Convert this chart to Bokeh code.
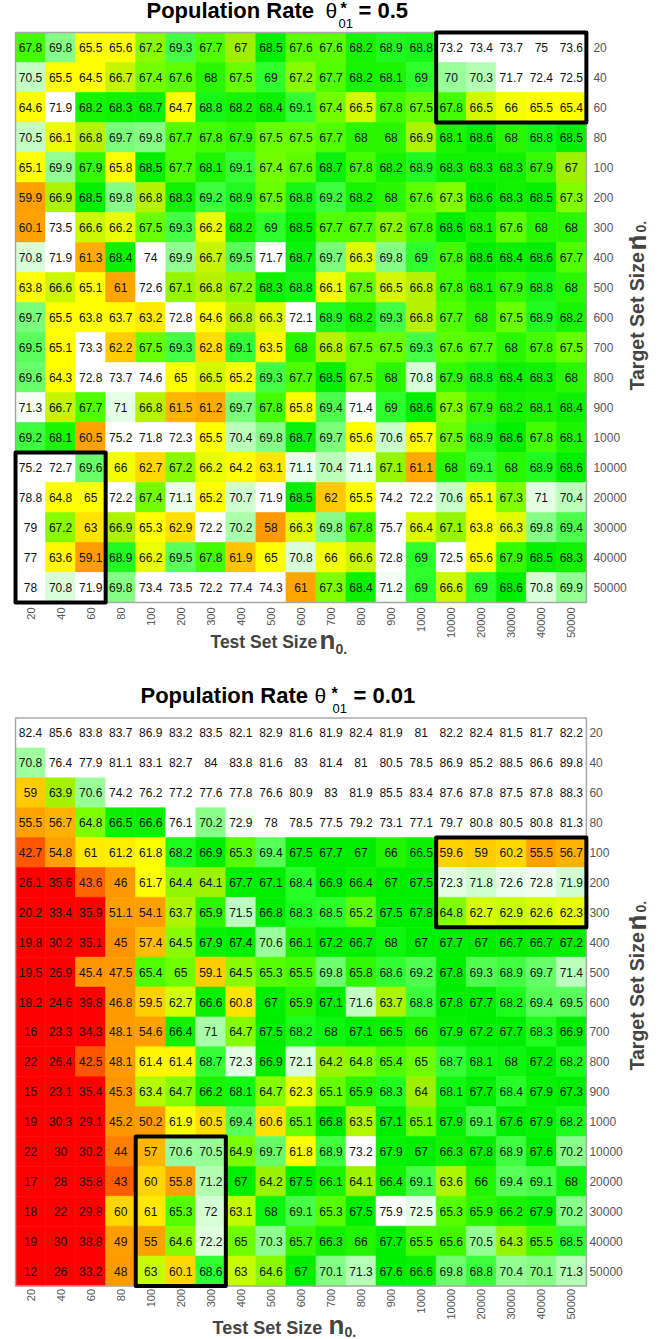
import math
from bokeh.plotting import figure
from bokeh.models import ColumnDataSource, LinearColorMapper, Label, FactorRange
from bokeh.layouts import column
from bokeh.embed import file_html
from bokeh.resources import INLINE
from bokeh.core.properties import value

# ---------------- data ----------------
test_sizes = ["20", "40", "60", "80", "100", "200", "300", "400", "500", "600",
              "700", "800", "900", "1000", "10000", "20000", "30000", "40000", "50000"]
target_sizes = ["20", "40", "60", "80", "100", "200", "300", "400", "500", "600",
                "700", "800", "900", "1000", "10000", "20000", "30000", "40000", "50000"]

# rows = target set size (top to bottom), columns = test set size
rate_05 = [
    [67.8, 69.8, 65.5, 65.6, 67.2, 69.3, 67.7, 67, 68.5, 67.6, 67.6, 68.2, 68.9, 68.8, 73.2, 73.4, 73.7, 75, 73.6],
    [70.5, 65.5, 64.5, 66.7, 67.4, 67.6, 68, 67.5, 69, 67.2, 67.7, 68.2, 68.1, 69, 70, 70.3, 71.7, 72.4, 72.5],
    [64.6, 71.9, 68.2, 68.3, 68.7, 64.7, 68.8, 68.2, 68.4, 69.1, 67.4, 66.5, 67.8, 67.5, 67.8, 66.5, 66, 65.5, 65.4],
    [70.5, 66.1, 66.8, 69.7, 69.8, 67.7, 67.8, 67.9, 67.5, 67.5, 67.7, 68, 68, 66.9, 68.1, 68.6, 68, 68.8, 68.5],
    [65.1, 69.9, 67.9, 65.8, 68.5, 67.7, 68.1, 69.1, 67.4, 67.6, 68.7, 67.8, 68.2, 68.9, 68.3, 68.3, 68.3, 67.9, 67],
    [59.9, 66.9, 68.5, 69.8, 66.8, 68.3, 69.2, 68.9, 67.5, 68.8, 69.2, 68.2, 68, 67.6, 67.3, 68.6, 68.3, 68.5, 67.3],
    [60.1, 73.5, 66.6, 66.2, 67.5, 69.3, 66.2, 68.2, 69, 68.5, 67.7, 67.7, 67.2, 67.8, 68.6, 68.1, 67.6, 68, 68],
    [70.8, 71.9, 61.3, 68.4, 74, 69.9, 66.7, 69.5, 71.7, 68.7, 69.7, 66.3, 69.8, 69, 67.8, 68.6, 68.4, 68.6, 67.7],
    [63.8, 66.6, 65.1, 61, 72.6, 67.1, 66.8, 67.2, 68.3, 68.8, 66.1, 67.5, 66.5, 66.8, 67.8, 68.1, 67.9, 68.8, 68],
    [69.7, 65.5, 63.8, 63.7, 63.2, 72.8, 64.6, 66.8, 66.3, 72.1, 68.9, 68.2, 69.3, 66.8, 67.7, 68, 67.5, 68.9, 68.2],
    [69.5, 65.1, 73.3, 62.2, 67.5, 69.3, 62.8, 69.1, 63.5, 68, 66.8, 67.5, 67.5, 69.3, 67.6, 67.7, 68, 67.8, 67.5],
    [69.6, 64.3, 72.8, 73.7, 74.6, 65, 66.5, 65.2, 69.3, 67.7, 68.5, 67.5, 68, 70.8, 67.9, 68.8, 68.4, 68.3, 68],
    [71.3, 66.7, 67.7, 71, 66.8, 61.5, 61.2, 69.7, 67.8, 65.8, 69.4, 71.4, 69, 68.6, 67.3, 67.9, 68.2, 68.1, 68.4],
    [69.2, 68.1, 60.5, 75.2, 71.8, 72.3, 65.5, 70.4, 69.8, 68.7, 69.7, 65.6, 70.6, 65.7, 67.5, 68.9, 68.6, 67.8, 68.1],
    [75.2, 72.7, 69.6, 66, 62.7, 67.2, 66.2, 64.2, 63.1, 71.1, 70.4, 71.1, 67.1, 61.1, 68, 69.1, 68, 68.9, 68.6],
    [78.8, 64.8, 65, 72.2, 67.4, 71.1, 65.2, 70.7, 71.9, 68.5, 62, 65.5, 74.2, 72.2, 70.6, 65.1, 67.3, 71, 70.4],
    [79, 67.2, 63, 66.9, 65.3, 62.9, 72.2, 70.2, 58, 66.3, 69.8, 67.8, 75.7, 66.4, 67.1, 63.8, 66.3, 69.8, 69.4],
    [77, 63.6, 59.1, 68.9, 66.2, 69.5, 67.8, 61.9, 65, 70.8, 66, 66.6, 72.8, 69, 72.5, 65.6, 67.9, 68.5, 68.3],
    [78, 70.8, 71.9, 69.8, 73.4, 73.5, 72.2, 77.4, 74.3, 61, 67.3, 68.4, 71.2, 69, 66.6, 69, 68.6, 70.8, 69.9],
]

rate_001 = [
    [82.4, 85.6, 83.8, 83.7, 86.9, 83.2, 83.5, 82.1, 82.9, 81.6, 81.9, 82.4, 81.9, 81, 82.2, 82.4, 81.5, 81.7, 82.2],
    [70.8, 76.4, 77.9, 81.1, 83.1, 82.7, 84, 83.8, 81.6, 83, 81.4, 81, 80.5, 78.5, 86.9, 85.2, 88.5, 86.6, 89.8],
    [59, 63.9, 70.6, 74.2, 76.2, 77.2, 77.6, 77.8, 76.6, 80.9, 83, 81.9, 85.5, 83.4, 87.6, 87.8, 87.5, 87.8, 88.3],
    [55.5, 56.7, 64.8, 66.5, 66.6, 76.1, 70.2, 72.9, 78, 78.5, 77.5, 79.2, 73.1, 77.1, 79.7, 80.8, 80.5, 80.8, 81.3],
    [42.7, 54.8, 61, 61.2, 61.8, 68.2, 66.9, 65.3, 69.4, 67.5, 67.7, 67, 66, 66.5, 59.6, 59, 60.2, 55.5, 56.7],
    [26.1, 35.6, 43.6, 46, 61.7, 64.4, 64.1, 67.7, 67.1, 68.4, 66.9, 66.4, 67, 67.5, 72.3, 71.8, 72.6, 72.8, 71.9],
    [20.2, 33.4, 35.9, 51.1, 54.1, 63.7, 65.9, 71.5, 66.8, 68.3, 68.5, 65.2, 67.5, 67.8, 64.8, 62.7, 62.9, 62.6, 62.3],
    [19.8, 30.2, 35.1, 45, 57.4, 64.5, 67.9, 67.4, 70.6, 66.1, 67.2, 66.7, 68, 67, 67.7, 67, 66.7, 66.7, 67.2],
    [19.5, 26.9, 45.4, 47.5, 65.4, 65, 59.1, 64.5, 65.3, 65.5, 69.8, 65.8, 68.6, 69.2, 67.8, 69.3, 68.9, 69.7, 71.4],
    [18.2, 24.6, 39.8, 46.8, 59.5, 62.7, 66.6, 60.8, 67, 65.9, 67.1, 71.6, 63.7, 68.8, 67.8, 67.7, 68.2, 69.4, 69.5],
    [16, 23.3, 34.3, 48.1, 54.6, 66.4, 71, 64.7, 67.5, 68.2, 68, 67.1, 66.5, 66, 67.9, 67.2, 67.7, 68.3, 66.9],
    [22, 26.4, 42.5, 48.1, 61.4, 61.4, 68.7, 72.3, 66.9, 72.1, 64.2, 64.8, 65.4, 65, 68.7, 68.1, 68, 67.2, 68.2],
    [15, 23.1, 35.4, 45.3, 63.4, 64.7, 66.2, 68.1, 64.7, 62.3, 65.1, 65.9, 68.3, 64, 68.1, 67.7, 68.4, 67.9, 67.3],
    [19, 30.3, 29.1, 45.2, 50.2, 61.9, 60.5, 69.4, 60.6, 65.1, 66.8, 63.5, 67.1, 65.1, 67.9, 69.1, 67.6, 67.9, 68.2],
    [22, 30, 30.2, 44, 57, 70.6, 70.5, 64.9, 69.7, 61.8, 68.9, 73.2, 67.9, 67, 66.3, 67.8, 68.9, 67.6, 70.2],
    [17, 28, 35.8, 43, 60, 55.8, 71.2, 67, 64.2, 67.5, 66.1, 64.1, 66.4, 69.1, 63.6, 66, 69.4, 69.1, 68],
    [18, 22, 29.8, 60, 61, 65.3, 72, 63.1, 68, 69.1, 65.3, 67.5, 75.9, 72.5, 65.3, 65.9, 66.2, 67.9, 70.2],
    [19, 30, 38.8, 49, 55, 64.6, 72.2, 65, 70.3, 65.7, 66.3, 66, 67.7, 65.5, 65.6, 70.5, 64.3, 65.5, 68.5],
    [12, 26, 33.2, 48, 63, 60.1, 68.6, 63, 64.6, 67, 70.1, 71.3, 67.6, 66.6, 69.8, 68.8, 70.4, 70.1, 71.3],
]

# highlighted blocks: (test from, test to, target from, target to)
highlight_05 = [("10000", "50000", "20", "60"), ("20", "60", "10000", "50000")]
highlight_001 = [("10000", "50000", "100", "300"), ("100", "300", "10000", "50000")]

# ---------------- colour scales ----------------
stops_05 = [(57, "#ff9900"), (60, "#ffa000"), (61, "#ffa600"), (61.5, "#ffb400"), (62, "#ffc800"),
            (62.8, "#ffdd00"), (63.5, "#fff500"), (63.8, "#ffff00"), (65.8, "#ffff00"), (66.2, "#e8ff00"),
            (66.7, "#c4f500"), (67.0, "#a0f000"), (67.3, "#80ff00"), (67.7, "#50ff00"), (68.1, "#1cf500"),
            (68.6, "#00ee00"), (69.0, "#2cff2c"), (69.4, "#4cff4c"), (69.8, "#88ff88"), (70.3, "#b4ffb4"),
            (70.8, "#d8ffd8"), (71.2, "#f2fff2"), (71.5, "#ffffff"), (80, "#ffffff")]
stops_001 = [(10, "#ff0000"), (40.5, "#ff0000"), (42.5, "#ff5500"), (43.6, "#ff6600"), (44.3, "#ff9000"),
             (46, "#ff9900"), (56, "#ffa200"), (57.2, "#ffbb00"), (59, "#ffcc00"), (60.3, "#ffd800"),
             (61.2, "#ffee00"), (61.7, "#ffff00"), (62.2, "#f0ff00"), (62.8, "#ccff00"), (64, "#a0f000"),
             (64.8, "#80ff00"), (65.3, "#55ff00"), (66, "#22f500"), (66.8, "#00ee00"), (67.8, "#00ee00"),
             (68.3, "#22ff22"), (69, "#44ff44"), (69.6, "#60ff60"), (70.3, "#90ff90"), (70.8, "#a0ffa0"),
             (71.5, "#c0ffc0"), (72.2, "#dfffdf"), (72.8, "#eeffee"), (73.1, "#ffffff"), (95, "#ffffff")]


def hex2rgb(h):
    return tuple(int(h[i:i + 2], 16) for i in (1, 3, 5))


def build_mapper(stops, n):
    lo, hi = stops[0][0], stops[-1][0]
    pal = []
    for i in range(n):
        v = lo + (i + 0.5) * (hi - lo) / n
        for (v0, c0), (v1, c1) in zip(stops, stops[1:]):
            if v <= v1:
                break
        t = min(max((v - v0) / (v1 - v0), 0.0), 1.0)
        a, b = hex2rgb(c0), hex2rgb(c1)
        pal.append("#%02x%02x%02x" % tuple(int(round(a[k] + (b[k] - a[k]) * t)) for k in range(3)))
    return LinearColorMapper(palette=pal, low=lo, high=hi)


FONT = "Liberation Sans"
W = 661
UP = math.pi / 2
BASE_FIX = 0.32  # em shift so that the label's glyph baseline lands on the requested line


def make_chart(values, mapper, highlights, height, pad_top, pad_bottom, y_pad,
               xtick_off, ytick_off, texts):
    # spacer factors give room (inside the frame) for tick labels and titles
    x_factors = test_sizes + ["_r1", "_r2"]
    y_top = ["_t%d" % i for i in range(pad_top)]
    y_bot = ["_b%d" % i for i in range(pad_bottom)]
    y_factors = (y_top + target_sizes + y_bot)[::-1]

    xs, ys, vs, labels = [], [], [], []
    for r, row in enumerate(values):
        for c, v in enumerate(row):
            xs.append(test_sizes[c])
            ys.append(target_sizes[r])
            vs.append(v)
            labels.append(f"{v:g}")
    src = ColumnDataSource(dict(x=xs, y=ys, v=vs, label=labels))

    p = figure(x_range=FactorRange(*x_factors, range_padding=0.5, range_padding_units="absolute"),
               y_range=FactorRange(*y_factors, range_padding=y_pad, range_padding_units="absolute"),
               width=W, height=height, min_border=0,
               x_axis_location=None, y_axis_location=None,
               toolbar_location=None, output_backend="svg")
    p.outline_line_color = None
    p.xgrid.grid_line_color = None
    p.ygrid.grid_line_color = None
    p.background_fill_color = "white"
    p.border_fill_color = "white"

    p.rect(x="x", y="y", width=1, height=1, source=src,
           fill_color={"field": "v", "transform": mapper},
           line_color={"field": "v", "transform": mapper}, line_width=0.6)
    p.text(x="x", y="y", text="label", source=src, text_align="center", text_baseline="middle",
           text_font=value(FONT), text_font_size="12px", text_color="#111111")

    # grey border of the grid
    mid = len(test_sizes) // 2
    p.rect(x=[test_sizes[mid]], y=[target_sizes[mid]], width=len(test_sizes), height=len(target_sizes),
           fill_color=None, line_color="#a8a8a8", line_width=1.5)

    for c0, c1, r0, r1 in highlights:
        i0, i1 = test_sizes.index(c0), test_sizes.index(c1)
        j0, j1 = target_sizes.index(r0), target_sizes.index(r1)
        p.rect(x=[test_sizes[(i0 + i1) // 2]], y=[target_sizes[(j0 + j1) // 2]],
               width=i1 - i0 + 1, height=j1 - j0 + 1,
               fill_color=None, line_color="black", line_width=4, line_join="round")

    # tick labels
    p.text(x=test_sizes, y=[y_bot[0]] * len(test_sizes), text=test_sizes, angle=UP,
           y_offset=xtick_off, text_align="right", text_baseline="middle",
           text_font=value(FONT), text_font_size="11px", text_color="#555555")
    p.text(x=["_r1"] * len(target_sizes), y=target_sizes, text=target_sizes,
           x_offset=ytick_off, text_align="left", text_baseline="middle",
           text_font=value(FONT), text_font_size="12px", text_color="#555555")

    for (txt, px, py, size, style, color, angle) in texts:
        fix = BASE_FIX * size
        if angle:
            px -= fix
        else:
            py -= fix
        p.add_layout(Label(x=px, y=height - py, x_units="screen", y_units="screen",
                           text=txt, text_font=FONT, text_font_size=f"{size}px",
                           text_font_style=style, text_color=color, angle=angle,
                           text_align="left", text_baseline="alphabetic"))
    return p


# title / axis-title pieces: (text, x, baseline y within the figure, size, style, colour, angle)
H1 = 664
H2 = 675
T2 = H1  # page offset of the second chart
texts_05 = [
    ("Population Rate", 146, 17, 22, "bold", "#000000", 0),
    ("θ", 325, 17, 21, "normal", "#000000", 0),
    ("*", 340, 13.5, 16, "bold", "#000000", 0),
    ("01", 338, 27, 13, "normal", "#000000", 0),
    ("= 0.5", 358, 17, 22, "bold", "#000000", 0),
    ("Test Set Size", 210, 647, 17.5, "bold", "#444444", 0),
    ("n", 319, 648, 26, "bold", "#444444", 0),
    ("0.", 335, 653, 14, "bold", "#444444", 0),
    ("Target Set Size", 643, 390, 19.5, "bold", "#444444", UP),
    ("n", 645, 250, 26, "bold", "#444444", UP),
    ("’", 645, 242, 24, "bold", "#444444", UP),
    ("0.", 645, 232, 14, "bold", "#444444", UP),
]
texts_001 = [
    ("Population Rate", 140, 702 - T2, 22, "bold", "#000000", 0),
    ("θ", 314, 702 - T2, 21, "normal", "#000000", 0),
    ("*", 331, 698.5 - T2, 16, "bold", "#000000", 0),
    ("01", 332, 712 - T2, 13, "normal", "#000000", 0),
    ("= 0.01", 353, 702 - T2, 22, "bold", "#000000", 0),
    ("Test Set Size", 212, 1333 - T2, 18, "bold", "#444444", 0),
    ("n", 328, 1333 - T2, 26, "bold", "#444444", 0),
    ("0.", 344, 1336 - T2, 14, "bold", "#444444", 0),
    ("Target Set Size", 643, 1070 - T2, 19.5, "bold", "#444444", UP),
    ("n", 645, 930 - T2, 26, "bold", "#444444", UP),
    ("’", 645, 922 - T2, 24, "bold", "#444444", UP),
    ("0.", 645, 912 - T2, 14, "bold", "#444444", UP),
]

mapper_05 = build_mapper(stops_05, 1024)
mapper_001 = build_mapper(stops_001, 2048)

p1 = make_chart(rate_05, mapper_05, highlight_05, height=H1, pad_top=1, pad_bottom=2, y_pad=0.067,
                xtick_off=-10, ytick_off=-8, texts=texts_05)
p2 = make_chart(rate_001, mapper_001, highlight_001, height=H2, pad_top=1, pad_bottom=1, y_pad=0.79,
                xtick_off=-12, ytick_off=-12, texts=texts_001)

layout = column(p1, p2, spacing=0)
open("out.html", "w").write(file_html(layout, INLINE))
